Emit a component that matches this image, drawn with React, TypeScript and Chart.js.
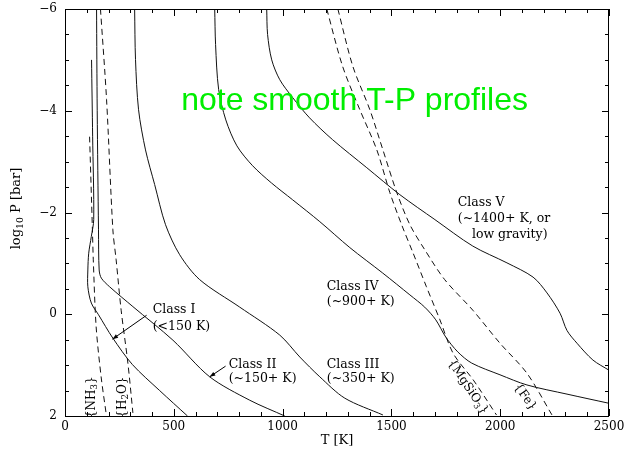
import React, { useEffect, useRef } from "react";
import { Chart, registerables } from "chart.js";

Chart.register(...registerables);

// ---- axis ticks ----
const xTickLabels = [0, 500, 1000, 1500, 2000, 2500];
const yTickLabels = [-6, -4, -2, 0, 2];

// ---- T-P profiles (T in K, log10 P in bar) ----
const classI_T = [122, 127, 132, 121, 109, 105, 105, 121, 154, 220, 310, 435, 563];
const classI_P = [-5.0, -3.5, -1.86, -1.53, -1.2, -0.87, -0.54, -0.22, 0.01, 0.47, 0.99, 1.5, 2.0];

const classII_T = [145, 148, 154, 157, 167, 205, 312, 496, 665, 849, 1010];
const classII_P = [-6, -4, -1.66, -0.87, -0.71, -0.54, -0.15, 0.51, 1.23, 1.69, 2.0];

const classIII_T = [320, 324, 338, 370, 412, 462, 527, 619, 803, 987, 1079, 1171, 1286, 1461];
const classIII_P = [-6, -5.01, -4.02, -3.23, -2.55, -1.76, -1.17, -0.68, -0.14, 0.41, 0.84, 1.23, 1.65, 1.98];

const classIV_T = [688, 692, 706, 739, 790, 862, 949, 1046, 1171, 1309, 1460, 1585, 1653, 1704, 1750, 1805, 1869, 1999, 2123, 2307, 2500];
const classIV_P = [-6, -5.3, -4.42, -3.82, -3.31, -2.92, -2.58, -2.25, -1.82, -1.31, -0.81, -0.38, -0.14, 0.11, 0.45, 0.74, 0.96, 1.19, 1.39, 1.57, 1.75];

const classV_T = [927, 931, 950, 987, 1046, 1124, 1230, 1387, 1539, 1700, 1874, 2031, 2151, 2215, 2275, 2307, 2353, 2426, 2500];
const classV_P = [-6, -5.5, -5.0, -4.61, -4.26, -3.86, -3.43, -2.88, -2.35, -1.86, -1.34, -1.01, -0.73, -0.42, -0.02, 0.32, 0.57, 0.9, 1.1];

// ---- condensation curves ----
const nh3_T = [113, 126, 130, 143, 166, 189];
const nh3_P = [-3.49, -1.66, -1.07, 0.24, 1.23, 1.95];

const h2o_T = [163, 191, 220, 235, 258, 289, 312];
const h2o_P = [-6, -4.22, -1.66, -1.07, -0.08, 0.96, 1.94];

const mgsio3_T = [1203, 1276, 1355, 1433, 1493, 1547, 1600, 1661, 1723, 1784, 1876, 1983];
const mgsio3_P = [-6, -4.87, -4.02, -3.23, -2.39, -1.76, -1.2, -0.54, 0.11, 0.77, 1.29, 1.98];

const fe_T = [1254, 1323, 1401, 1461, 1525, 1585, 1653, 1745, 1874, 1999, 2123, 2238];
const fe_P = [-6, -4.87, -4.02, -3.23, -2.39, -1.76, -1.27, -0.68, -0.08, 0.57, 1.16, 1.98];

// ---- text annotations (anchored in data coordinates) ----
const classLabelText = [
  "Class I", "(<150 K)",
  "Class II", "(~150+ K)",
  "Class III", "(~350+ K)",
  "Class IV", "(~900+ K)",
  "Class V", "(~1400+ K, or", "low gravity)",
];
const classLabelT = [403, 403, 752, 752, 1203, 1203, 1203, 1203, 1805, 1805, 1870];
const classLabelP = [-0.09, 0.25, 0.99, 1.27, 0.99, 1.27, -0.54, -0.24, -2.19, -1.88, -1.56];

// arrows: from label to curve
const arrowFromT = [375, 738];
const arrowFromP = [0.02, 1.02];
const arrowToT = [218, 665];
const arrowToP = [0.49, 1.23];

// species labels
const speciesName = ["NH", "H", "MgSiO", "Fe"];
const speciesSub = ["3", "2", "3", ""];
const speciesTail = ["", "O", "", ""];
const speciesT = [122, 264, 1851, 2114];
const speciesP = [1.63, 1.63, 1.43, 1.63];
const speciesAngleDeg = [-90, -90, 56, 54];

const noteText = "note smooth T-P profiles";
const noteT = 534;
const noteP = -4.02;

function pts(T: number[], P: number[]) {
  return T.map((t, i) => ({ x: t, y: P[i] }));
}

const SERIF = '"DejaVu Serif", serif';

function fmt(v: number) {
  return v < 0 ? "\u2212" + Math.abs(v) : String(v);
}

type Seg = { t: string; sub?: boolean };

function drawRich(
  ctx: CanvasRenderingContext2D,
  segs: Seg[],
  cx: number,
  cy: number,
  angle: number,
  size: number
) {
  const fontFor = (s: Seg) => `${s.sub ? size * 0.72 : size}px ${SERIF}`;
  let total = 0;
  const widths = segs.map((s) => {
    ctx.font = fontFor(s);
    const w = ctx.measureText(s.t).width;
    total += w;
    return w;
  });
  ctx.save();
  ctx.translate(cx, cy);
  ctx.rotate(angle);
  ctx.textAlign = "left";
  ctx.textBaseline = "middle";
  let x = -total / 2;
  segs.forEach((s, i) => {
    ctx.font = fontFor(s);
    ctx.fillText(s.t, x, s.sub ? size * 0.3 : 0);
    x += widths[i];
  });
  ctx.restore();
}

const overlay = {
  id: "overlay",
  afterDraw(chart: any) {
    const { ctx, chartArea: a, scales } = chart;
    const xs = scales.x;
    const ys = scales.y;
    ctx.save();
    ctx.strokeStyle = "#000";
    ctx.fillStyle = "#000";
    ctx.lineWidth = 1;
    // frame
    ctx.strokeRect(a.left + 0.5, a.top + 0.5, a.right - a.left - 1, a.bottom - a.top);

    // x ticks (minor every 100, major every 500), bottom and top, inward
    ctx.beginPath();
    for (let t = xs.min; t <= xs.max + 1e-6; t += 100) {
      const px = Math.round(xs.getPixelForValue(t)) + 0.5;
      const len = Math.abs(t % 500) < 1e-6 ? 7 : 4;
      ctx.moveTo(px, a.bottom);
      ctx.lineTo(px, a.bottom - len);
      ctx.moveTo(px, a.top);
      ctx.lineTo(px, a.top + len);
    }
    // y ticks (minor every 0.5, major every 2), left and right, inward
    for (let p = ys.min; p <= ys.max + 1e-6; p += 0.5) {
      const py = Math.round(ys.getPixelForValue(p)) + 0.5;
      const len = Math.abs(p % 2) < 1e-6 ? 7 : 4;
      ctx.moveTo(a.left, py);
      ctx.lineTo(a.left + len, py);
      ctx.moveTo(a.right, py);
      ctx.lineTo(a.right - len, py);
    }
    ctx.stroke();

    // tick labels
    ctx.font = `12px ${SERIF}`;
    ctx.textAlign = "center";
    ctx.textBaseline = "middle";
    xTickLabels.forEach((v) => {
      ctx.fillText(fmt(v), xs.getPixelForValue(v), a.bottom + 11);
    });
    ctx.textAlign = "right";
    yTickLabels.forEach((v) => {
      ctx.fillText(fmt(v), a.left - 8, ys.getPixelForValue(v));
    });

    // axis titles
    drawRich(ctx, [{ t: "T [K]" }], (a.left + a.right) / 2, a.bottom + 25, 0, 13);
    drawRich(
      ctx,
      [{ t: "log" }, { t: "10", sub: true }, { t: " P [bar]" }],
      17,
      (a.top + a.bottom) / 2 - 4,
      -Math.PI / 2,
      13
    );

    // class labels
    ctx.font = `12.5px ${SERIF}`;
    ctx.textAlign = "left";
    ctx.textBaseline = "middle";
    classLabelText.forEach((s, i) => {
      ctx.fillText(s, xs.getPixelForValue(classLabelT[i]), ys.getPixelForValue(classLabelP[i]));
    });

    // arrows
    arrowFromT.forEach((_, i) => {
      const x0 = xs.getPixelForValue(arrowFromT[i]);
      const y0 = ys.getPixelForValue(arrowFromP[i]);
      const x1 = xs.getPixelForValue(arrowToT[i]);
      const y1 = ys.getPixelForValue(arrowToP[i]);
      const ang = Math.atan2(y1 - y0, x1 - x0);
      ctx.beginPath();
      ctx.moveTo(x0, y0);
      ctx.lineTo(x1, y1);
      ctx.stroke();
      const hl = 6;
      const hw = 0.35;
      ctx.beginPath();
      ctx.moveTo(x1, y1);
      ctx.lineTo(x1 - hl * Math.cos(ang - hw), y1 - hl * Math.sin(ang - hw));
      ctx.lineTo(x1 - hl * Math.cos(ang + hw), y1 - hl * Math.sin(ang + hw));
      ctx.closePath();
      ctx.fill();
    });

    // species labels
    speciesName.forEach((n, i) => {
      const segs: Seg[] = [{ t: "{" + n }];
      if (speciesSub[i]) segs.push({ t: speciesSub[i], sub: true });
      segs.push({ t: speciesTail[i] + "}" });
      drawRich(
        ctx,
        segs,
        xs.getPixelForValue(speciesT[i]),
        ys.getPixelForValue(speciesP[i]),
        (speciesAngleDeg[i] * Math.PI) / 180,
        12
      );
    });

    // green note
    ctx.fillStyle = "#00ee00";
    ctx.font = '32px "Liberation Sans", Arial, sans-serif';
    ctx.textAlign = "left";
    ctx.textBaseline = "alphabetic";
    ctx.fillText(noteText, xs.getPixelForValue(noteT), ys.getPixelForValue(noteP));
    ctx.restore();
  },
};

export default function App() {
  const ref = useRef<HTMLCanvasElement | null>(null);
  useEffect(() => {
    if (!ref.current) return;
    const solid = (T: number[], P: number[]) => ({
      data: pts(T, P),
      showLine: true,
      borderColor: "#111",
      borderWidth: 1,
      pointRadius: 0,
      tension: 0.3,
      fill: false,
    });
    const dashed = (T: number[], P: number[]) => ({
      ...solid(T, P),
      borderDash: [6, 4],
    });
    const chart = new Chart(ref.current, {
      type: "scatter",
      data: {
        datasets: [
          solid(classI_T, classI_P),
          solid(classII_T, classII_P),
          solid(classIII_T, classIII_P),
          solid(classIV_T, classIV_P),
          solid(classV_T, classV_P),
          dashed(nh3_T, nh3_P),
          dashed(h2o_T, h2o_P),
          dashed(mgsio3_T, mgsio3_P),
          dashed(fe_T, fe_P),
        ] as any,
      },
      options: {
        animation: false,
        responsive: false,
        events: [],
        layout: { padding: { left: 65, top: 9, right: 16, bottom: 36 } },
        plugins: { legend: { display: false }, tooltip: { enabled: false } },
        scales: {
          x: { type: "linear", min: 0, max: 2500, display: false },
          y: { type: "linear", min: -6, max: 2, reverse: true, display: false },
        },
      },
      plugins: [overlay],
    });
    return () => chart.destroy();
  }, []);
  return (
    <div style={{ position: "absolute", left: 0, top: 0, width: 625, height: 452, background: "#fff" }}>
      <canvas ref={ref} width={625} height={452} style={{ display: "block" }} />
    </div>
  );
}
